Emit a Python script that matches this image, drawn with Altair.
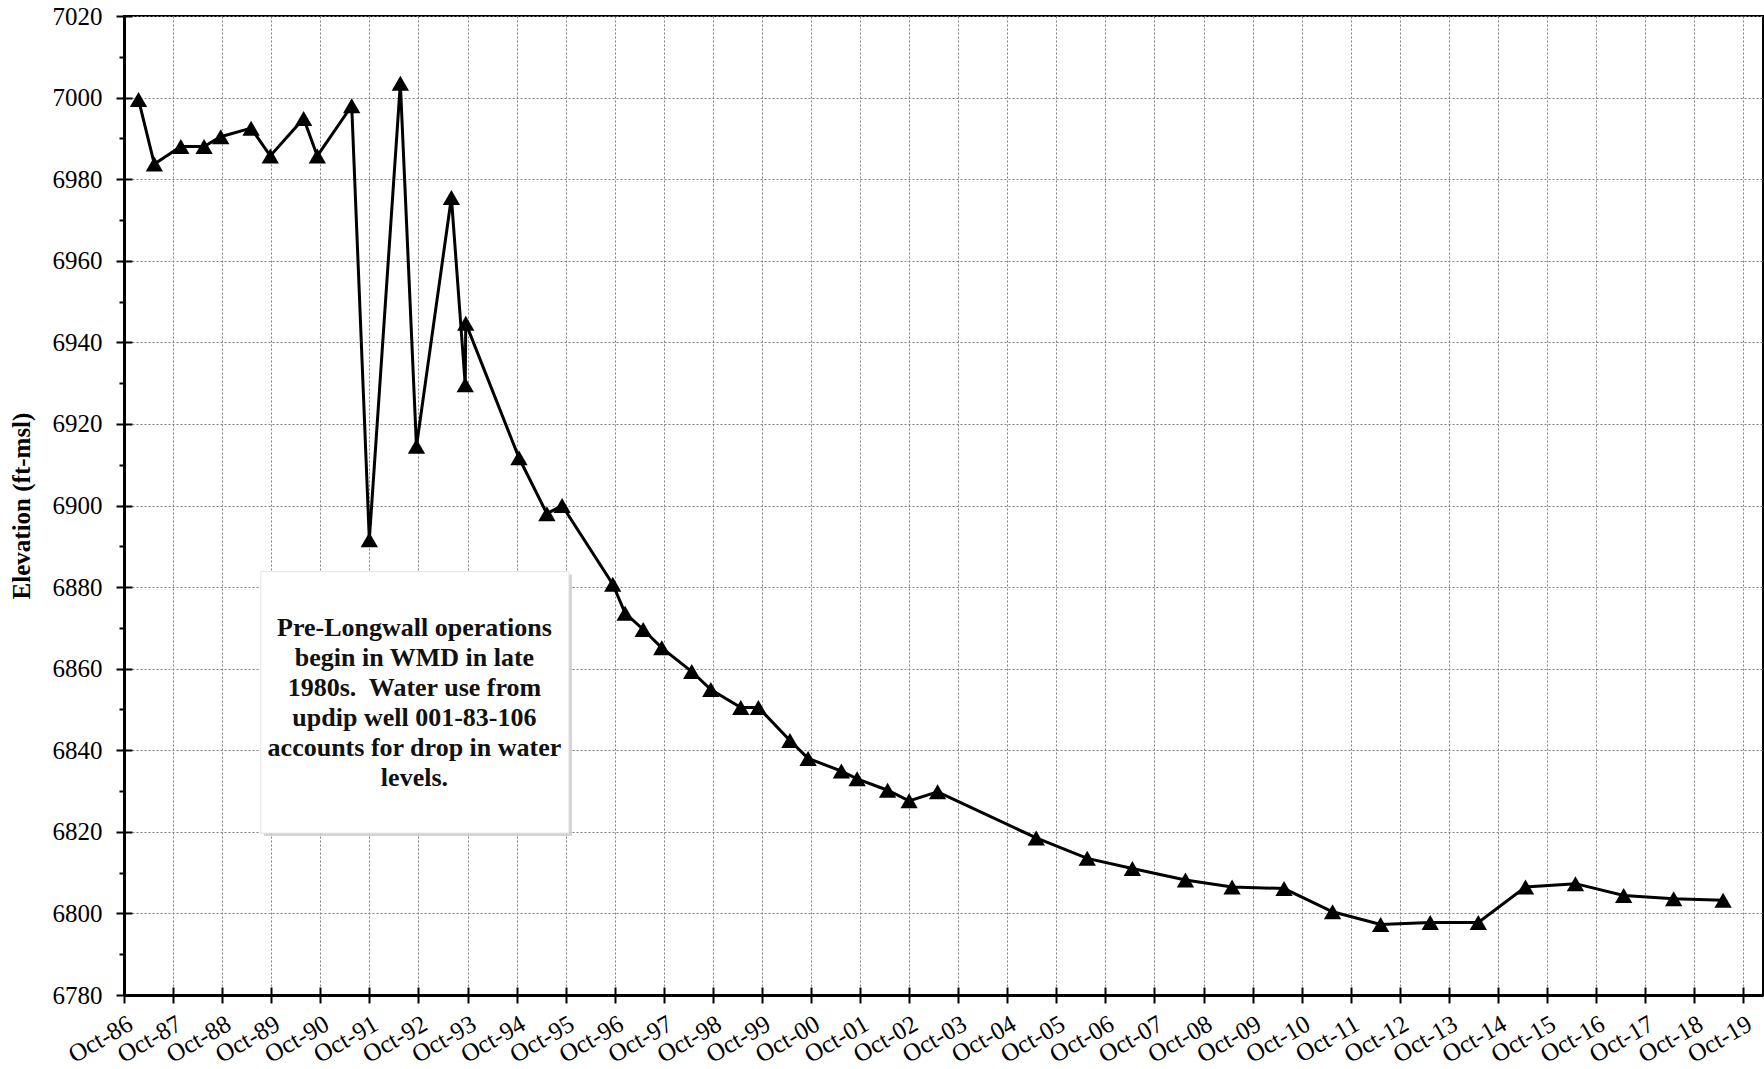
import altair as alt
import pandas as pd

# Water level measurements (sample date, elevation in ft-msl)
dates = [
    "1987-01-17", "1987-05-15", "1987-11-28", "1988-05-19", "1988-09-20",
    "1989-05-04", "1989-09-24", "1990-05-30", "1990-09-09", "1991-05-23",
    "1991-10-01", "1992-05-19", "1992-09-16", "1993-06-03", "1993-09-14",
    "1993-09-18", "1994-10-19", "1995-05-15", "1995-09-05", "1996-09-16",
    "1996-12-17", "1997-05-01", "1997-09-16", "1998-04-27", "1998-09-16",
    "1999-04-27", "1999-09-05", "2000-04-27", "2000-09-09", "2001-05-15",
    "2001-09-09", "2002-04-24", "2002-10-01", "2003-05-01", "2005-05-04",
    "2006-05-19", "2007-04-20", "2008-05-19", "2009-05-01", "2010-05-23",
    "2011-05-19", "2012-05-11", "2013-05-15", "2014-05-08", "2015-04-24",
    "2016-04-30", "2017-04-24", "2018-05-01", "2019-05-04",
]
elevations = [
    6999.5, 6983.7, 6988.0, 6988.0, 6990.4,
    6992.5, 6985.7, 6994.9, 6985.7, 6998.0,
    6891.6, 7003.5, 6914.5, 6975.5, 6929.6,
    6944.7, 6911.7, 6898.0, 6900.0, 6880.7,
    6873.6, 6869.6, 6865.1, 6859.3, 6854.9,
    6850.5, 6850.5, 6842.4, 6838.0, 6834.9,
    6833.0, 6830.2, 6827.6, 6829.8, 6818.5,
    6813.5, 6811.0, 6808.2, 6806.5, 6806.1,
    6800.4, 6797.3, 6797.8, 6797.8, 6806.5,
    6807.3, 6804.4, 6803.6, 6803.2,
]

# Axis ranges and ticks
y_min, y_max = 6780, 7020
y_major = list(range(6780, 7021, 20))
y_minor = list(range(6790, 7020, 20))
tick_years = list(range(1986, 2020))

# Note box (a no-break space keeps the double space after the full stop)
note_text = (
    "Pre-Longwall operations\n"
    "begin in WMD in late\n"
    "1980s.\u00a0 Water use from\n"
    "updip well 001-83-106\n"
    "accounts for drop in water\n"
    "levels."
)
note_box = {"x": "1989-07-15", "x2": "1995-10-26", "y": 6883.8, "y2": 6819.7}
# anchor of the first text line
note_anchor = {"x": "1992-09-01", "y": 6870.0}

FONT = "Liberation Serif"

df = pd.DataFrame({"date": dates, "elev": elevations})
box_df = pd.DataFrame([note_box])
note_df = pd.DataFrame([{**note_anchor, "text": note_text}])

x_scale = alt.Scale(
    type="utc",
    domain=[
        alt.DateTime(year=1986, month=10, date=1, utc=True),
        alt.DateTime(year=2020, month=2, date=25, utc=True),
    ],
)
y_scale = alt.Scale(domain=[y_min, y_max], nice=False, zero=False)
oct_ticks = [alt.DateTime(year=y, month=10, date=1, utc=True) for y in tick_years]

grid_style = dict(grid=True, gridColor="#808080", gridDash=[2, 2], gridWidth=1)

x_main = alt.Axis(
    values=oct_ticks, orient="bottom",
    labelExpr="utcFormat(datum.value, '%b-%y')",
    labelAngle=330, labelAlign="right", labelBaseline="top",
    labelFont=FONT, labelFontSize=25, labelColor="black", labelPadding=8,
    labelOverlap=False, labelFlush=False, labelLimit=200,
    domainColor="black", domainWidth=3,
    tickColor="black", tickWidth=2, tickSize=8,
    title=None, **grid_style,
)
y_main = alt.Axis(
    values=y_major, orient="left",
    labelExpr="format(datum.value, 'd')",
    labelFont=FONT, labelFontSize=25, labelColor="black", labelPadding=14,
    domainColor="black", domainWidth=3,
    tickColor="black", tickWidth=2, tickSize=8,
    title="Elevation (ft-msl)", titleFont=FONT, titleFontSize=25,
    titleFontWeight="bold", titleColor="black", titlePadding=18,
    **grid_style,
)
# inner halves of the major ticks, so they cross the axis lines
x_inner = alt.Axis(
    values=oct_ticks, orient="bottom", offset=-8, domain=False, labels=False,
    grid=False, tickColor="black", tickWidth=2, tickSize=8, title=None,
)
y_inner = alt.Axis(
    values=y_major, orient="left", offset=-8, domain=False, labels=False,
    grid=False, tickColor="black", tickWidth=2, tickSize=8, title=None,
)
# minor ticks on the elevation axis
y_minor_axis = alt.Axis(
    values=y_minor, orient="left", domain=False, labels=False, grid=False,
    tickColor="black", tickWidth=2, tickSize=5, title=None,
)

line = alt.Chart(df).mark_line(color="black", strokeWidth=3).encode(
    x=alt.X("date:T", scale=x_scale, axis=x_main),
    y=alt.Y("elev:Q", scale=y_scale, axis=y_main),
)

points = alt.Chart(df).mark_point(
    shape="triangle-up", filled=True, color="black", size=300, opacity=1
).encode(
    x=alt.X("date:T", scale=x_scale, axis=x_inner),
    y=alt.Y("elev:Q", scale=y_scale, axis=y_inner),
)

shadow = alt.Chart(box_df).mark_rect(
    color="#c8c8c8", xOffset=3, yOffset=3, x2Offset=3, y2Offset=3, opacity=0.8
).encode(
    x=alt.X("x:T", scale=x_scale, axis=None),
    x2="x2:T",
    y=alt.Y("y:Q", scale=y_scale, axis=y_minor_axis),
    y2="y2:Q",
)

box = alt.Chart(box_df).mark_rect(color="white", stroke="#e4e4e4", strokeWidth=1).encode(
    x=alt.X("x:T", scale=x_scale, axis=None),
    x2="x2:T",
    y=alt.Y("y:Q", scale=y_scale, axis=None),
    y2="y2:Q",
)

note = alt.Chart(note_df).mark_text(
    font=FONT, fontSize=26, fontWeight="bold", color="#111111",
    lineBreak="\n", lineHeight=30, align="center", baseline="middle",
).encode(
    x=alt.X("x:T", scale=x_scale, axis=None),
    y=alt.Y("y:Q", scale=y_scale, axis=None),
    text="text:N",
)

chart = (
    alt.layer(shadow, box, note, line, points)
    .resolve_axis(x="independent", y="independent")
    .properties(
        width=1639,
        height=979,
        autosize=alt.AutoSizeParams(type="none"),
        padding={"left": 124, "top": 16, "right": 1, "bottom": 74},
        background="white",
    )
    .configure_view(stroke="black", strokeWidth=2)
)

chart.save("out.html", embed_options={"renderer": "svg", "actions": False})
